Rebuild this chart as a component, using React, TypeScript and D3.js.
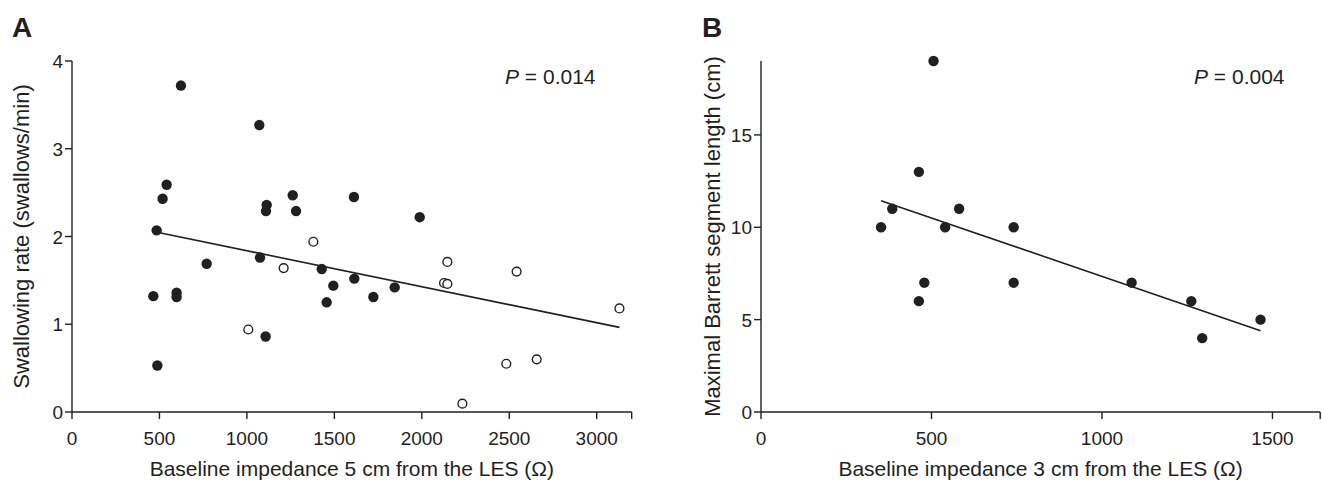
import React from "react";
import * as d3 from "d3";

// Panel A data: baseline impedance 5 cm (Ω) vs swallowing rate
const aFilledX = [623, 1071, 541, 518, 1113, 1109, 1262, 1281, 484, 1612, 1988, 770, 1075, 1428, 1494, 1456, 465, 598, 598, 1107, 488, 1614, 1723, 1845];
const aFilledY = [3.72, 3.27, 2.59, 2.43, 2.36, 2.29, 2.47, 2.29, 2.07, 2.45, 2.22, 1.69, 1.76, 1.63, 1.44, 1.25, 1.32, 1.36, 1.31, 0.86, 0.53, 1.52, 1.31, 1.42];
const aOpenX = [1380, 1210, 1008, 2146, 2127, 2146, 2542, 3130, 2483, 2657, 2232];
const aOpenY = [1.94, 1.64, 0.94, 1.71, 1.47, 1.46, 1.60, 1.18, 0.55, 0.60, 0.095];
const aFit = { intercept: 2.248, slope: -0.00041, x0: 480, x1: 3130 };
const aXTicks = [0, 500, 1000, 1500, 2000, 2500, 3000];
const aYTicks = [0, 1, 2, 3, 4];

// Panel B data: baseline impedance 3 cm (Ω) vs maximal Barrett segment length
const bX = [506, 463, 385, 581, 352, 540, 741, 479, 741, 463, 1087, 1262, 1465, 1294];
const bY = [19, 13, 11, 11, 10, 10, 10, 7, 7, 6, 7, 6, 5, 4];
const bFit = { intercept: 13.667, slope: -0.006325, x0: 352, x1: 1465 };
const bXTicks = [0, 500, 1000, 1500];
const bYTicks = [0, 5, 10, 15];

const FONT = "'Liberation Sans', Arial, Helvetica, sans-serif";
const INK = "#231f20";

type PanelProps = {
  letter: string;
  x: d3.ScaleLinear<number, number>;
  y: d3.ScaleLinear<number, number>;
  xTicks: number[];
  yTicks: number[];
  xLabel: React.ReactNode;
  yLabel: string;
  pText: string;
  pX: number;
  filled: [number, number][];
  open: [number, number][];
  fit: { intercept: number; slope: number; x0: number; x1: number };
  letterX: number;
  yLabelX: number;
};

function Panel(p: PanelProps) {
  const [x0, x1] = p.x.range();
  const [y0, y1] = p.y.range();
  const line = d3
    .line<number>()
    .x((v) => p.x(v))
    .y((v) => p.y(p.fit.intercept + p.fit.slope * v));
  const tick = 7;
  return (
    <g fontFamily={FONT} fill={INK}>
      <text x={p.letterX} y={36.5} fontSize={28} fontWeight="bold">
        {p.letter}
      </text>
      {/* axes */}
      <line x1={x0} x2={x1} y1={y0} y2={y0} stroke={INK} strokeWidth={1.4} />
      <line x1={x0} x2={x0} y1={y0} y2={y1} stroke={INK} strokeWidth={1.4} />
      {p.xTicks.map((t) => (
        <g key={"xt" + t}>
          <line x1={p.x(t)} x2={p.x(t)} y1={y0} y2={y0 + tick} stroke={INK} strokeWidth={1.4} />
          <text x={p.x(t)} y={y0 + 33} fontSize={19} textAnchor="middle">
            {t}
          </text>
        </g>
      ))}
      <line x1={x1} x2={x1} y1={y0} y2={y0 + tick} stroke={INK} strokeWidth={1.4} />
      {p.yTicks.map((t) => (
        <g key={"yt" + t}>
          <line x1={x0 - tick} x2={x0} y1={p.y(t)} y2={p.y(t)} stroke={INK} strokeWidth={1.4} />
          <text x={x0 - 9} y={p.y(t) + 7} fontSize={19} textAnchor="end">
            {t}
          </text>
        </g>
      ))}
      <text x={(x0 + x1) / 2} y={y0 + 64} fontSize={21} textAnchor="middle">
        {p.xLabel}
      </text>
      <text
        transform={`translate(${p.yLabelX},${(y0 + y1) / 2}) rotate(-90)`}
        fontSize={22}
        textAnchor="middle"
      >
        {p.yLabel}
      </text>
      <text x={p.pX} y={84} fontSize={21}>
        <tspan fontStyle="italic">P</tspan>
        {" = "}
        {p.pText}
      </text>
      <path d={line([p.fit.x0, p.fit.x1]) || ""} stroke={INK} strokeWidth={1.6} fill="none" />
      {p.open.map(([vx, vy], i) => (
        <circle key={"o" + i} cx={p.x(vx)} cy={p.y(vy)} r={4.4} fill="#fff" stroke={INK} strokeWidth={1.4} />
      ))}
      {p.filled.map(([vx, vy], i) => (
        <circle key={"f" + i} cx={p.x(vx)} cy={p.y(vy)} r={5.2} fill={INK} />
      ))}
    </g>
  );
}

export default function App() {
  const ax = d3.scaleLinear().domain([0, 3200]).range([72, 631.7]);
  const ay = d3.scaleLinear().domain([0, 4]).range([412, 61]);
  const bx = d3.scaleLinear().domain([0, 1640]).range([761, 1320.2]);
  const by = d3.scaleLinear().domain([0, 19]).range([412, 61]);
  const zip = (xs: number[], ys: number[]) => xs.map((v, i) => [v, ys[i]] as [number, number]);
  return (
    <svg
      width={1322}
      height={480}
      style={{ position: "absolute", left: 0, top: 0, background: "#fff" }}
    >
      <rect width={1322} height={480} fill="#fff" />
      <Panel
        letter="A"
        letterX={12}
        x={ax}
        y={ay}
        xTicks={aXTicks}
        yTicks={aYTicks}
        xLabel="Baseline impedance 5 cm from the LES (Ω)"
        yLabel="Swallowing rate (swallows/min)"
        pText="0.014"
        pX={505}
        filled={zip(aFilledX, aFilledY)}
        open={zip(aOpenX, aOpenY)}
        fit={aFit}
        yLabelX={29}
      />
      <Panel
        letter="B"
        letterX={702}
        x={bx}
        y={by}
        xTicks={bXTicks}
        yTicks={bYTicks}
        xLabel="Baseline impedance 3 cm from the LES (Ω)"
        yLabel="Maximal Barrett segment length (cm)"
        pText="0.004"
        pX={1194}
        filled={zip(bX, bY)}
        open={[]}
        fit={bFit}
        yLabelX={720}
      />
    </svg>
  );
}
